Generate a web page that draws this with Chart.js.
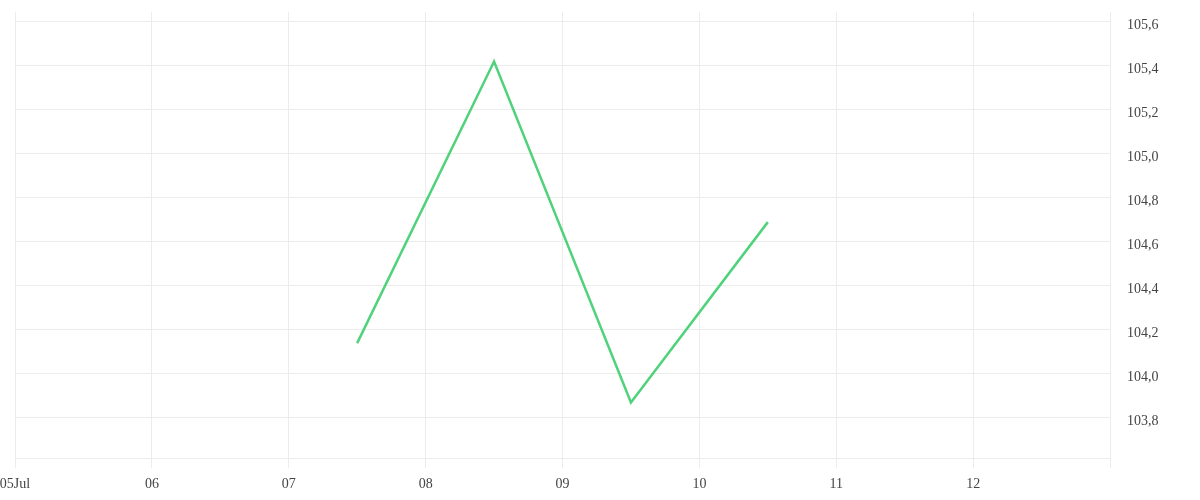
<!DOCTYPE html>
<html>
<head>
<meta charset="utf-8">
<script src="https://cdn.jsdelivr.net/npm/chart.js@4"></script>
<style>
html,body{margin:0;padding:0;background:#fff;}
#wrap{width:1200px;height:500px;}
</style>
</head>
<body>
<div id="wrap"><canvas id="c" width="1200" height="500"></canvas></div>
<script>
// Data (x = day of July, noon points)
const days = [7.5, 8.5, 9.5, 10.5];
const prices = [104.14, 105.42, 103.87, 104.69];
const xTickDays = [5, 6, 7, 8, 9, 10, 11, 12, 13];
const xTickLabels = ['05Jul', '06', '07', '08', '09', '10', '11', '12', ''];

const gridColor = '#ececec';
const textColor = '#444';
const font = {family: '"Liberation Serif", serif', size: 14};

new Chart(document.getElementById('c'), {
  type: 'line',
  data: {
    datasets: [{
      data: days.map((d, i) => ({x: d, y: prices[i]})),
      borderColor: '#4fd27b',
      borderWidth: 2.5,
      pointRadius: 0,
      tension: 0,
      fill: false
    }]
  },
  options: {
    responsive: false,
    animation: false,
    layout: {padding: {top: 12, left: 15, right: 0, bottom: 0}},
    plugins: {legend: {display: false}, tooltip: {enabled: false}},
    scales: {
      x: {
        type: 'linear',
        min: 5,
        max: 13,
        afterBuildTicks: s => { s.ticks = xTickDays.map(v => ({value: v})); },
        afterFit: s => { s.height = 42; s.paddingLeft = 0; s.paddingRight = 0; s.paddingTop = 0; s.paddingBottom = 0; },
        ticks: {
          autoSkip: false,
          maxRotation: 0,
          color: textColor,
          font: font,
          padding: 8,
          callback: (v) => { const i = xTickDays.indexOf(v); return i >= 0 ? xTickLabels[i] : ''; }
        },
        grid: {color: gridColor, tickLength: 10, tickColor: gridColor},
        border: {color: gridColor}
      },
      y: {
        position: 'right',
        min: 103.618,
        max: 105.645,
        afterFit: s => { s.width = 90; s.paddingLeft = 0; s.paddingRight = 0; s.paddingTop = 0; s.paddingBottom = 0; },
        ticks: {
          stepSize: 0.2,
          includeBounds: false,
          color: textColor,
          font: font,
          padding: 17,
          labelOffset: 3,
          callback: v => v.toFixed(1).replace('.', ',')
        },
        grid: {color: gridColor, drawTicks: false},
        border: {color: gridColor}
      }
    }
  }
});
</script>
</body>
</html>
